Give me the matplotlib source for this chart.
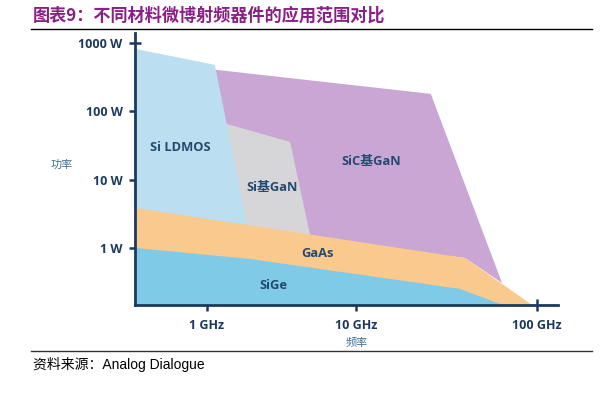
import numpy as np
import matplotlib
matplotlib.use("Agg")
import matplotlib.pyplot as plt
from matplotlib.ticker import NullLocator, FixedLocator

# region outlines, (frequency GHz, power W)
ldmos_f = [0.329, 1.13, 1.94, 0.329]
ldmos_w = [820, 478, 1.31, 1.31]

sic_gan_f = [0.97, 25.9, 64.1, 40.0, 0.97]
sic_gan_w = [422, 180, 0.307, 0.714, 2.0]

si_gan_f = [1.26, 3.61, 5.09, 1.26]
si_gan_w = [68.3, 35.6, 1.106, 1.31]

gaas_f = [0.329, 40.0, 94.0, 0.329]
gaas_w = [3.85, 0.714, 0.146, 0.146]

sige_f = [0.329, 1.94, 37.6, 64.9, 0.329]
sige_w = [1.0, 0.69, 0.251, 0.146, 0.146]

region_names = ["Si LDMOS", "SiC基GaN", "Si基GaN", "GaAs", "SiGe"]
label_f = [0.659, 12.2, 2.73, 5.47, 2.77]
label_w = [29.1, 18.2, 7.56, 0.817, 0.278]

x_ticks = [1, 10, 100]
x_ticklabels = ["1 GHz", "10 GHz", "100 GHz"]
y_ticks = [1, 10, 100, 1000]
y_ticklabels = ["1 W", "10 W", "100 W", "1000 W"]

# the original frequency axis is not evenly spaced per decade
LOG_ANCHORS = [-3, 0, 1, 2, 5]
POS_ANCHORS = [-447, 0, 149, 330, 873]


def fwd(x):
    x = np.clip(np.asarray(x, dtype=float), 1e-9, None)
    return np.interp(np.log10(x), LOG_ANCHORS, POS_ANCHORS)


def inv(p):
    return 10 ** np.interp(np.asarray(p, dtype=float), POS_ANCHORS, LOG_ANCHORS)


NAVY = "#1D3A5E"
LABEL_BLUE = "#244A70"

fig = plt.figure(figsize=(6.09, 3.94), dpi=100)
ax = fig.add_axes([135 / 609, 1 - 305 / 394, 423 / 609, 272 / 394])
ax.set_xscale("function", functions=(fwd, inv))
ax.set_yscale("log")
ax.set_xlim(10 ** -0.483, 10 ** 2.116)
ax.set_ylim(10 ** -0.835, 10 ** 3.146)

ax.fill(sic_gan_f, sic_gan_w, color="#C9A6D4", lw=0, zorder=1)
ax.fill(si_gan_f, si_gan_w, color="#D6D6D9", lw=0, zorder=2)
ax.fill(ldmos_f, ldmos_w, color="#BBDFF0", lw=0, zorder=3)
ax.fill(gaas_f, gaas_w, color="#F9C98E", lw=0, zorder=4)
ax.fill(sige_f, sige_w, color="#7FCAE7", lw=0, zorder=5)

for name, f, w in zip(region_names, label_f, label_w):
    ax.text(f, w, name, ha="center", va="center", fontsize=9.3,
            fontweight="bold", color=LABEL_BLUE,
            family=["Open Sans", "Noto Sans CJK SC"], zorder=6)

for side in ["top", "right"]:
    ax.spines[side].set_visible(False)
for side in ["left", "bottom"]:
    ax.spines[side].set_color(NAVY)
    ax.spines[side].set_linewidth(2)
    ax.spines[side].set_zorder(7)

ax.xaxis.set_major_locator(FixedLocator(x_ticks))
ax.xaxis.set_minor_locator(NullLocator())
ax.set_xticklabels(x_ticklabels)
ax.yaxis.set_major_locator(FixedLocator(y_ticks))
ax.yaxis.set_minor_locator(NullLocator())
ax.set_yticklabels(y_ticklabels)
ax.tick_params(direction="inout", length=8, width=1.8, color=NAVY,
               labelcolor=NAVY, labelsize=9)
ax.tick_params(axis="x", pad=6)
ax.tick_params(axis="y", pad=5)
for lab in ax.get_xticklabels() + ax.get_yticklabels():
    lab.set_fontweight("bold")
    lab.set_family("Open Sans")

fig.text(62 / 609, 1 - 165 / 394, "功率", ha="center", va="center",
         fontsize=8, color="#3C6F92", family="Noto Sans CJK SC")
fig.text(357 / 609, 1 - 343 / 394, "频率", ha="center", va="center",
         fontsize=8, color="#3C6F92", family="Noto Sans CJK SC")

# header and footer
title = fig.text(33 / 609, 1 - 16 / 394, "图表9：不同材料微博射频器件的应用范围对比",
                 ha="left", va="center", fontsize=12, fontweight="bold",
                 color="#8A1F86", family=["Noto Sans CJK SC", "DejaVu Sans"])
# fit the title to the width it has in the original (about 352 px)
renderer = fig.canvas.get_renderer()
tw = title.get_window_extent(renderer).width
title.set_fontsize(12 * 352 / tw)

fig.add_artist(plt.Line2D([31 / 609, 592 / 609], [1 - 29 / 394, 1 - 29 / 394],
                          color="black", lw=1))
fig.add_artist(plt.Line2D([31 / 609, 592 / 609], [1 - 351 / 394, 1 - 351 / 394],
                          color="#333333", lw=1))
fig.text(33 / 609, 1 - 364 / 394, "资料来源：Analog Dialogue", ha="left",
         va="center", fontsize=10, color="black",
         family=["Liberation Sans", "Noto Sans CJK SC"])

fig.savefig("out.png", dpi=100)
